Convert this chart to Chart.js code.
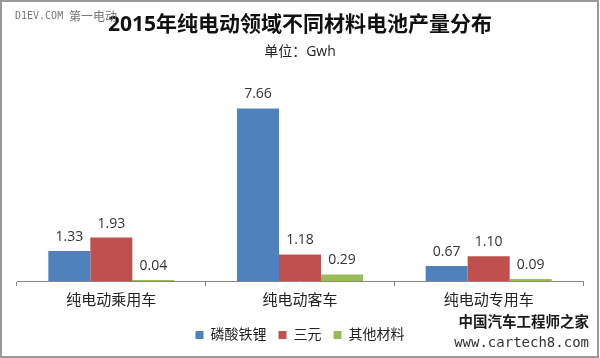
<!DOCTYPE html>
<html>
<head>
<meta charset="utf-8">
<script src="https://cdn.jsdelivr.net/npm/chart.js@4/dist/chart.umd.min.js"></script>
<style>
  body { margin: 0; background: #fff; }
  #wrap { width: 600px; height: 358px; position: relative; }
</style>
</head>
<body>
<div id="wrap"><canvas id="batteryChart"></canvas></div>
<script>
const categories = ['纯电动乘用车', '纯电动客车', '纯电动专用车'];
const seriesNames = ['磷酸铁锂', '三元', '其他材料'];
const lfp = [1.33, 7.66, 0.67];
const ternary = [1.93, 1.18, 1.10];
const other = [0.04, 0.29, 0.09];

const cjk = "'Open Sans', 'Noto Sans CJK SC', sans-serif";

// value labels above bars
const valueLabels = {
  id: 'valueLabels',
  afterDatasetsDraw(chart) {
    const ctx = chart.ctx;
    ctx.save();
    ctx.font = '14px ' + cjk;
    ctx.fillStyle = '#333';
    ctx.textAlign = 'center';
    ctx.textBaseline = 'middle';
    chart.data.datasets.forEach((ds, i) => {
      chart.getDatasetMeta(i).data.forEach((bar, j) => {
        ctx.fillText(ds.data[j].toFixed(2), bar.x, bar.y - 14);
      });
    });
    ctx.restore();
  }
};

// frame and watermarks
const decor = {
  id: 'decor',
  afterDraw(chart) {
    const ctx = chart.ctx;
    ctx.save();
    ctx.strokeStyle = '#9a9a9a';
    ctx.lineWidth = 2;
    ctx.strokeRect(1, 1, 597, 356);
    ctx.textBaseline = 'middle';
    ctx.fillStyle = '#777';
    ctx.font = '10px "DejaVu Sans Mono", monospace';
    ctx.fillText('D1EV.COM', 15, 16);
    ctx.font = '12px "Noto Sans CJK SC", sans-serif';
    ctx.fillText('第一电动', 69, 16);
    ctx.fillStyle = '#1a1a1a';
    ctx.font = 'bold 14.5px "Noto Sans CJK SC", sans-serif';
    ctx.textAlign = 'right';
    ctx.fillText('中国汽车工程师之家', 589, 321);
    ctx.fillStyle = '#333';
    ctx.font = '14px "DejaVu Sans Mono", monospace';
    ctx.fillText('www.cartech8.com', 589, 343);
    ctx.restore();
  }
};

new Chart(document.getElementById('batteryChart'), {
  type: 'bar',
  data: {
    labels: categories,
    datasets: [
      { label: seriesNames[0], data: lfp, backgroundColor: '#4F81BD' },
      { label: seriesNames[1], data: ternary, backgroundColor: '#C0504D' },
      { label: seriesNames[2], data: other, backgroundColor: '#9BBB59' }
    ]
  },
  options: {
    responsive: true,
    maintainAspectRatio: false,
    animation: false,
    layout: { padding: { left: 17, right: 17, top: 0, bottom: 6 } },
    datasets: { bar: { categoryPercentage: 0.668, barPercentage: 1 } },
    plugins: {
      title: {
        display: true,
        text: '2015年纯电动领域不同材料电池产量分布',
        color: '#111',
        font: { family: cjk, size: 21, weight: 'bold' },
        padding: { top: 12, bottom: 3 }
      },
      subtitle: {
        display: true,
        text: '单位：Gwh',
        color: '#222',
        font: { family: cjk, size: 14 },
        padding: { top: 3, bottom: 10 }
      },
      legend: {
        position: 'bottom',
        labels: {
          boxWidth: 8,
          boxHeight: 8,
          color: '#222',
          font: { family: cjk, size: 14 },
          padding: 12
        }
      },
      tooltip: { enabled: false }
    },
    scales: {
      x: {
        grid: { drawOnChartArea: false, drawTicks: true, tickLength: 5, color: '#868686' },
        border: { color: '#868686' },
        ticks: { color: '#222', font: { family: cjk, size: 15 }, padding: 6 }
      },
      y: { display: false, min: 0, max: 9.37 }
    }
  },
  plugins: [valueLabels, decor]
});
</script>
</body>
</html>
